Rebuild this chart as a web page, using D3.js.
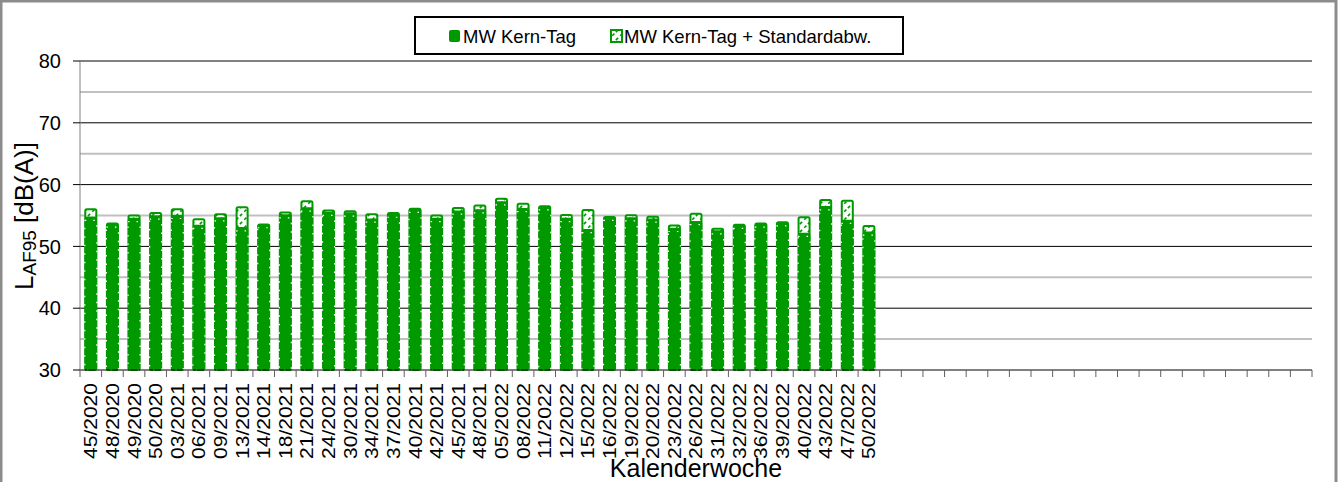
<!DOCTYPE html>
<html>
<head>
<meta charset="utf-8">
<script src="https://cdn.jsdelivr.net/npm/d3@7"></script>
<style>
    body { margin: 0; background: #fff; }
    text { font-family: Arial, 'Liberation Sans', sans-serif; }
</style>
</head>
<body>
<svg></svg>
<script>
const width = 1338;
const height = 482;

// Kalenderwochen (37 belegt, Achse hat 57 Plaetze)
const weeks = ['45/2020', '48/2020', '49/2020', '50/2020', '03/2021', '06/2021', '09/2021', '13/2021',
    '14/2021', '18/2021', '21/2021', '24/2021', '30/2021', '34/2021', '37/2021', '40/2021', '42/2021',
    '45/2021', '48/2021', '05/2022', '08/2022', '11/2022', '12/2022', '15/2022', '16/2022', '19/2022',
    '20/2022', '23/2022', '26/2022', '31/2022', '32/2022', '36/2022', '39/2022', '40/2022', '43/2022',
    '47/2022', '50/2022'];
const slotCount = 57;

const mwKernTag = [54.7, 53.6, 54.5, 54.9, 55.0, 53.4, 54.6, 53.0, 53.5, 55.1, 56.2, 55.5, 55.4, 54.4,
    55.2, 56.0, 54.5, 55.7, 55.9, 57.2, 56.1, 56.4, 54.5, 52.7, 54.7, 54.6, 54.4, 52.9, 54.0, 52.5,
    53.4, 53.6, 53.8, 52.1, 56.4, 54.2, 52.3];
const mwPlusStd = [56.0, 53.7, 55.0, 55.4, 56.0, 54.4, 55.2, 56.35, 53.55, 55.5, 57.3, 55.8, 55.7, 55.2,
    55.4, 56.1, 55.0, 56.2, 56.6, 57.7, 56.9, 56.5, 55.1, 55.9, 54.75, 55.05, 54.8, 53.4, 55.3, 52.85,
    53.5, 53.7, 53.9, 54.7, 57.5, 57.4, 53.3];

const majorTicks = [30, 40, 50, 60, 70, 80];
const minorTicks = [35, 45, 55, 65, 75];
const seriesNames = ['MW Kern-Tag', 'MW Kern-Tag + Standardabw.'];

const green = '#009900';
const plotLeft = 80, plotRight = 1312, plotTop = 61, plotBottom = 370;

const svg = d3.select('svg')
    .attr('width', width)
    .attr('height', height);

const defs = svg.append('defs');
const pat = defs.append('pattern')
    .attr('id', 'stdPattern')
    .attr('patternUnits', 'userSpaceOnUse')
    .attr('width', 8)
    .attr('height', 8);
pat.append('rect').attr('width', 8).attr('height', 8).attr('fill', '#fff');
pat.append('path')
    .attr('d', 'M0,8 L8,0 M-2,2 L2,-2 M6,10 L10,6')
    .attr('stroke', green)
    .attr('stroke-width', 1.6)
    .attr('stroke-dasharray', '3,3');

// Rahmen
svg.append('rect')
    .attr('x', 1).attr('y', 1)
    .attr('width', width - 3).attr('height', height + 10)
    .attr('fill', '#fff')
    .attr('stroke', '#8c8c8c')
    .attr('stroke-width', 3);

const x = d3.scaleBand()
    .domain(d3.range(slotCount))
    .range([plotLeft, plotRight])
    .padding(0);

const y = d3.scaleLinear()
    .domain([30, 80])
    .range([plotBottom, plotTop]);

const barW = x.bandwidth() * 0.51;

// Gitternetz
svg.append('g').selectAll('line')
    .data(minorTicks)
    .enter().append('line')
    .attr('x1', plotLeft).attr('x2', plotRight)
    .attr('y1', d => y(d)).attr('y2', d => y(d))
    .attr('stroke', '#c0c0c0')
    .attr('stroke-width', 2);

svg.append('g').selectAll('line')
    .data(majorTicks.filter(d => d > 30))
    .enter().append('line')
    .attr('x1', plotLeft).attr('x2', plotRight)
    .attr('y1', d => y(d)).attr('y2', d => y(d))
    .attr('stroke', '#000')
    .attr('stroke-width', 1);

// Balken: MW + Standardabw. hinten, MW vorne
const bars = svg.append('g');
bars.selectAll('rect.std')
    .data(mwPlusStd)
    .enter().append('rect')
    .attr('class', 'std')
    .attr('x', (d, i) => x(i) + (x.bandwidth() - barW) / 2)
    .attr('y', d => y(d))
    .attr('width', barW)
    .attr('height', d => y(30) - y(d))
    .attr('rx', 1.5)
    .attr('fill', 'url(#stdPattern)')
    .attr('stroke', green)
    .attr('stroke-width', 2);

bars.selectAll('rect.mw')
    .data(mwKernTag)
    .enter().append('rect')
    .attr('class', 'mw')
    .attr('x', (d, i) => x(i) + (x.bandwidth() - barW) / 2)
    .attr('y', d => y(d))
    .attr('width', barW)
    .attr('height', d => y(30) - y(d))
    .attr('rx', 1.5)
    .attr('fill', green)
    .attr('stroke', green)
    .attr('stroke-width', 1.5);

bars.selectAll('rect.dash')
    .data(mwKernTag)
    .enter().append('rect')
    .attr('class', 'dash')
    .attr('x', (d, i) => x(i) + (x.bandwidth() - barW) / 2 - 0.5)
    .attr('y', d => y(d) + 3)
    .attr('width', barW + 1)
    .attr('height', d => y(30) - y(d) - 3)
    .attr('fill', 'none')
    .attr('stroke', '#fff')
    .attr('stroke-width', 1.2)
    .attr('stroke-dasharray', '1.5,7');

// x-Achse
svg.append('line')
    .attr('x1', plotLeft).attr('x2', plotRight)
    .attr('y1', plotBottom).attr('y2', plotBottom)
    .attr('stroke', '#000');

svg.append('g').selectAll('line')
    .data(d3.range(slotCount + 1))
    .enter().append('line')
    .attr('x1', d => plotLeft + d * x.step()).attr('x2', d => plotLeft + d * x.step())
    .attr('y1', plotBottom).attr('y2', plotBottom + 7)
    .attr('stroke', '#606060');

svg.append('g').selectAll('text')
    .data(weeks)
    .enter().append('text')
    .attr('transform', (d, i) => `translate(${x(i) + x.bandwidth() / 2},383) rotate(-90)`)
    .attr('text-anchor', 'end')
    .attr('dy', '0.35em')
    .attr('font-size', '18.5px')
    .attr('textLength', 76)
    .attr('lengthAdjust', 'spacingAndGlyphs')
    .text(d => d);

svg.append('text')
    .attr('x', (plotLeft + plotRight) / 2)
    .attr('y', 477)
    .attr('text-anchor', 'middle')
    .attr('font-size', '25px')
    .text('Kalenderwoche');

// y-Achse
svg.append('line')
    .attr('x1', plotLeft).attr('x2', plotLeft)
    .attr('y1', plotTop).attr('y2', plotBottom)
    .attr('stroke', '#808080');

svg.append('g').selectAll('line')
    .data(majorTicks)
    .enter().append('line')
    .attr('x1', plotLeft - 7).attr('x2', plotLeft)
    .attr('y1', d => y(d)).attr('y2', d => y(d))
    .attr('stroke', '#000');

svg.append('g').selectAll('text')
    .data(majorTicks)
    .enter().append('text')
    .attr('x', 61)
    .attr('y', d => y(d))
    .attr('dy', '0.36em')
    .attr('text-anchor', 'end')
    .attr('font-size', '20px')
    .text(d => d);

const yTitle = svg.append('text')
    .attr('transform', 'translate(33,216) rotate(-90)')
    .attr('text-anchor', 'middle')
    .attr('font-size', '26px');
yTitle.append('tspan').text('L');
yTitle.append('tspan').attr('font-size', '19px').attr('dy', 3).text('AF95');
yTitle.append('tspan').attr('dy', -3).text(' [dB(A)]');

// Legende
const legend = svg.append('g');
legend.append('rect')
    .attr('x', 415).attr('y', 17)
    .attr('width', 488).attr('height', 37)
    .attr('fill', '#fff')
    .attr('stroke', '#000')
    .attr('stroke-width', 2);

legend.append('rect')
    .attr('x', 449).attr('y', 30)
    .attr('width', 11).attr('height', 12)
    .attr('rx', 2)
    .attr('fill', green);
legend.append('rect')
    .attr('x', 611).attr('y', 30)
    .attr('width', 11).attr('height', 12)
    .attr('fill', 'url(#stdPattern)')
    .attr('stroke', green)
    .attr('stroke-width', 2);

legend.selectAll('text')
    .data(seriesNames)
    .enter().append('text')
    .attr('x', (d, i) => i == 0 ? 463 : 624)
    .attr('y', 43)
    .attr('font-size', '18.5px')
    .text(d => d);
</script>
</body>
</html>
